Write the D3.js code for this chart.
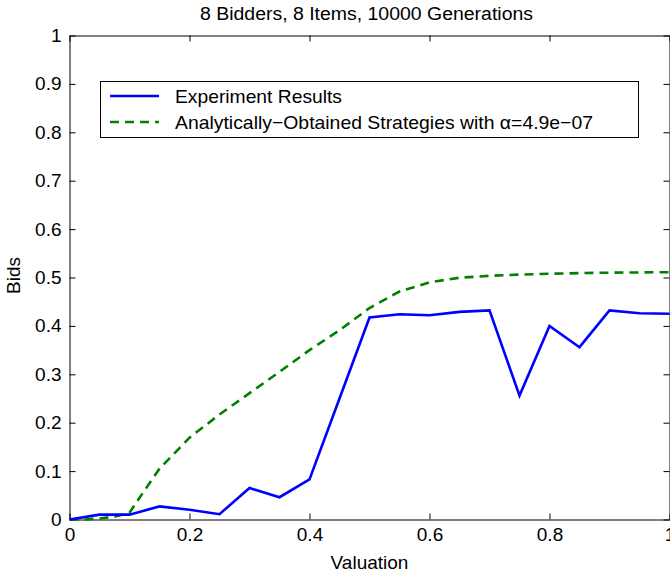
<!DOCTYPE html>
<html><head><meta charset="utf-8">
<script src="https://cdn.jsdelivr.net/npm/d3@7"></script>
<style>body{margin:0;background:#fff;} svg{display:block;font-family:"Liberation Sans",Arial,sans-serif;}</style>
</head><body><svg id="c" width="670" height="576"></svg>
<script>
const valuations = [0,0.05,0.1,0.15,0.2,0.25,0.3,0.35,0.4,0.45,0.5,0.55,0.6,0.65,0.7,0.75,0.8,0.85,0.9,0.95,1.0];
const experimentBids = [0,0.01,0.01,0.027,0.02,0.011,0.065,0.046,0.083,0.25,0.4175,0.424,0.422,0.429,0.432,0.256,0.400,0.356,0.432,0.426,0.425];
const analyticX = [0,0.025,0.05,0.075,0.1,0.125,0.15,0.2,0.25,0.3,0.35,0.4,0.45,0.5,0.55,0.6,0.65,0.7,0.75,0.8,0.85,0.9,0.95,1.0];
const analyticBids = [0,0,0.002,0.006,0.014,0.06,0.105,0.169,0.217,0.261,0.305,0.35,0.391,0.437,0.471,0.49,0.4995,0.5035,0.506,0.5077,0.509,0.51,0.5105,0.511];
const xTicks = [0,0.2,0.4,0.6,0.8,1];
const yTicks = [0,0.1,0.2,0.3,0.4,0.5,0.6,0.7,0.8,0.9,1];
const titleText = "8 Bidders, 8 Items, 10000 Generations";
const legendLabels = ["Experiment Results", "Analytically\u2212Obtained Strategies with \u03b1=4.9e\u221207"];

const svg = d3.select("#c");
const L=69.5, R=669.5, T=35.5, B=519.5;
const FS = 19;
const x = d3.scaleLinear().domain([0,1]).range([L,R]);
const y = d3.scaleLinear().domain([0,1]).range([B,T]);
const fmt = d => d===0||d===1 ? String(d) : d3.format(".1f")(d);

const ax = svg.append("g").attr("transform",`translate(0,${B})`)
  .call(d3.axisBottom(x).tickValues(xTicks).tickSizeInner(-6).tickSizeOuter(0).tickFormat(fmt));
const ay = svg.append("g").attr("transform",`translate(${L},0)`)
  .call(d3.axisLeft(y).tickValues(yTicks).tickSizeInner(-6).tickSizeOuter(0).tickPadding(8).tickFormat(fmt));
const at = svg.append("g").attr("transform",`translate(0,${T})`)
  .call(d3.axisTop(x).tickValues(xTicks).tickSizeInner(-6).tickSizeOuter(0).tickFormat(""));
const ar = svg.append("g").attr("transform",`translate(${R},0)`)
  .call(d3.axisRight(y).tickValues(yTicks).tickSizeInner(-6).tickSizeOuter(0).tickFormat(""));
[ax,ay,at,ar].forEach(g=>{
  g.selectAll("path.domain").attr("stroke","#000").attr("stroke-width",1);
  g.selectAll(".tick line").attr("stroke","#000").attr("stroke-width",1);
  g.selectAll(".tick text").attr("font-size",FS).attr("fill","#000").attr("font-family","Liberation Sans, Arial, sans-serif");
});
ax.selectAll(".tick text").attr("y",8).attr("dy","0.71em");

const lineA = d3.line().x((d,i)=>x(analyticX[i])).y(d=>y(d));
svg.append("path").datum(analyticBids).attr("d",lineA)
  .attr("fill","none").attr("stroke","#008000").attr("stroke-width",2.6).attr("stroke-dasharray","9,6");
const lineE = d3.line().x((d,i)=>x(valuations[i])).y(d=>y(d));
svg.append("path").datum(experimentBids).attr("d",lineE)
  .attr("fill","none").attr("stroke","#0000ff").attr("stroke-width",2.6).attr("stroke-linejoin","miter");

svg.append("text").attr("x",366.5).attr("y",20).attr("text-anchor","middle").attr("font-size",18)
  .attr("textLength",333).attr("lengthAdjust","spacingAndGlyphs").text(titleText);
svg.append("text").attr("x",369.5).attr("y",569).attr("text-anchor","middle").attr("font-size",FS).text("Valuation");
svg.append("text").attr("transform","translate(20,275.5) rotate(-90)").attr("text-anchor","middle").attr("font-size",FS).text("Bids");

const lg = svg.append("g");
lg.append("rect").attr("x",100.5).attr("y",81.5).attr("width",538).attr("height",56)
  .attr("fill","#fff").attr("stroke","#000").attr("stroke-width",1);
lg.append("line").attr("x1",110).attr("x2",159).attr("y1",96).attr("y2",96).attr("stroke","#0000ff").attr("stroke-width",2.6);
lg.append("line").attr("x1",110).attr("x2",159).attr("y1",122).attr("y2",122).attr("stroke","#008000").attr("stroke-width",2.6).attr("stroke-dasharray","9,6");
lg.append("text").attr("x",175).attr("y",103).attr("font-size",FS).attr("textLength",167).attr("lengthAdjust","spacingAndGlyphs").text(legendLabels[0]);
lg.append("text").attr("x",175).attr("y",129).attr("font-size",FS).attr("textLength",418).attr("lengthAdjust","spacingAndGlyphs").text(legendLabels[1]);
</script></body></html>
